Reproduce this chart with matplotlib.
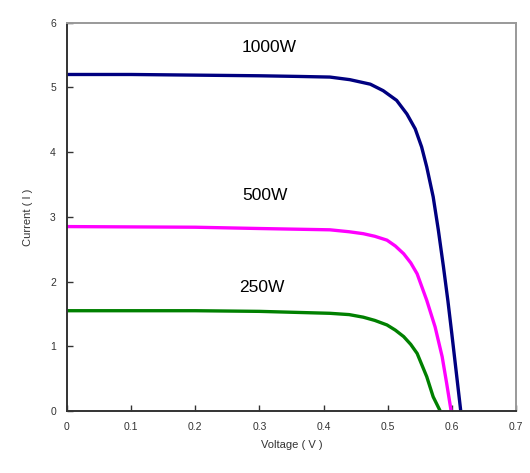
import numpy as np
import matplotlib
matplotlib.use("Agg")
import matplotlib.pyplot as plt

plt.rcParams['font.family'] = ['Liberation Sans', 'DejaVu Sans']

# I-V curves
v_1000 = [0, 0.1, 0.2, 0.3, 0.36, 0.41, 0.441, 0.473, 0.493, 0.514, 0.530, 0.543,
          0.553, 0.561, 0.571, 0.579, 0.587, 0.594, 0.600, 0.607, 0.614]
i_1000 = [5.20, 5.20, 5.19, 5.18, 5.17, 5.16, 5.12, 5.05, 4.95, 4.80, 4.59, 4.36,
          4.08, 3.77, 3.31, 2.80, 2.23, 1.70, 1.20, 0.60, 0.0]

v_500 = [0, 0.2, 0.3, 0.41, 0.44, 0.462, 0.48, 0.499, 0.512, 0.525, 0.536, 0.546,
         0.561, 0.574, 0.585, 0.592, 0.599]
i_500 = [2.85, 2.84, 2.82, 2.80, 2.77, 2.74, 2.70, 2.64, 2.55, 2.43, 2.29, 2.12,
         1.71, 1.30, 0.84, 0.43, 0.0]

v_250 = [0, 0.2, 0.3, 0.41, 0.44, 0.462, 0.48, 0.499, 0.512, 0.525, 0.536, 0.546,
         0.561, 0.571, 0.582]
i_250 = [1.55, 1.55, 1.54, 1.51, 1.49, 1.45, 1.40, 1.33, 1.25, 1.15, 1.03, 0.89,
         0.53, 0.22, 0.0]

labels = ['1000W', '500W', '250W']
label_pos = [(0.315, 5.62), (0.309, 3.33), (0.304, 1.91)]
colors = ['#000080', '#FF00FF', '#008000']

xticks = [0, 0.1, 0.2, 0.3, 0.4, 0.5, 0.6, 0.7]
xticklabels = ['0', '0.1', '0.2', '0.3', '0.4', '0.5', '0.6', '0.7']
yticks = [0, 1, 2, 3, 4, 5, 6]

fig = plt.figure(figsize=(5.3, 4.73), dpi=100)
ax = fig.add_axes([0.1264, 0.131, 0.847, 0.821])

curves = [(v_1000, i_1000), (v_500, i_500), (v_250, i_250)]
for (v, i), c in zip(curves, colors):
    ax.plot(v, i, color=c, lw=2.4, solid_capstyle='butt', solid_joinstyle='round')

for lab, (x, y) in zip(labels, label_pos):
    ax.text(x, y, lab, fontsize=12.5, ha='center', va='center', color='black')

ax.set_xlim(0, 0.7)
ax.set_ylim(0, 6)
ax.set_xticks(xticks)
ax.set_xticklabels(xticklabels)
ax.set_yticks(yticks)
ax.tick_params(direction='in', length=4, width=1, color='#333333',
               labelsize=7.5, labelcolor='#333333', pad=8)
ax.set_xlabel('Voltage ( V )', fontsize=8, color='#333333', labelpad=6)
ax.set_ylabel('Current ( I )', fontsize=8, color='#333333', labelpad=12)

for s in ['left', 'bottom']:
    ax.spines[s].set_color('#333333')
    ax.spines[s].set_linewidth(1.4)
for s in ['top', 'right']:
    ax.spines[s].set_color('#999999')
    ax.spines[s].set_linewidth(1.4)

fig.savefig('out.png', dpi=100)
